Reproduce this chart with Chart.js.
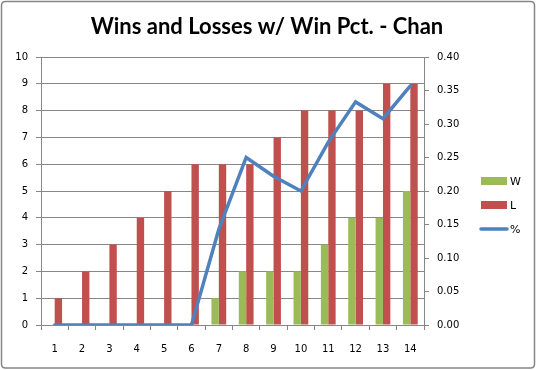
<!DOCTYPE html>
<html><head><meta charset="utf-8">
<script src="https://cdn.jsdelivr.net/npm/chart.js@4"></script>
<style>html,body{margin:0;padding:0;background:#fff}#wrap{width:537px;height:370px;position:relative}</style>
</head><body><div id="wrap"><canvas id="c" width="537" height="370"></canvas></div>
<script>
const titleText = "Wins and Losses w/ Win Pct. - Chan";
const categories = ["1","2","3","4","5","6","7","8","9","10","11","12","13","14"];
const wins = [0,0,0,0,0,0,1,2,2,2,3,4,4,5];
const losses = [1,2,3,4,5,6,6,6,7,8,8,8,9,9];
const winPct = [0,0,0,0,0,0,0.143,0.25,0.222,0.20,0.273,0.333,0.308,0.357];
const seriesNames = ["W","L","%"];
const colors = ["#9BBB59","#C0504D","#4F81BD"];

const AX = {left:41, right:424, top:57, bottom:325};
const gridColor = "#878787";
const tickFont = {family:"DejaVu Sans", size:10};

const decor = {
  id:'decor',
  beforeDraw(chart){
    const ctx = chart.ctx;
    ctx.save();
    ctx.fillStyle = '#fff';
    ctx.fillRect(0,0,chart.width,chart.height);
    ctx.strokeStyle = '#868686';
    ctx.lineWidth = 1.5;
    const r=4, x=1.5, y=1.5, w=533, h=366.5;
    ctx.beginPath();
    ctx.moveTo(x+r,y);ctx.lineTo(x+w-r,y);ctx.quadraticCurveTo(x+w,y,x+w,y+r);
    ctx.lineTo(x+w,y+h-r);ctx.quadraticCurveTo(x+w,y+h,x+w-r,y+h);
    ctx.lineTo(x+r,y+h);ctx.quadraticCurveTo(x,y+h,x,y+h-r);
    ctx.lineTo(x,y+r);ctx.quadraticCurveTo(x,y,x+r,y);
    ctx.stroke();
    ctx.restore();
  },
  afterDraw(chart){
    const ctx = chart.ctx;
    ctx.save();
    ctx.fillStyle = '#000';
    ctx.font = 'bold 22px Lato';
    ctx.textAlign = 'center';
    ctx.textBaseline = 'middle';
    ctx.fillText(titleText, 267, 27);
    // legend
    ctx.font = '11px "DejaVu Sans"';
    ctx.textAlign = 'left';
    const ys = [181,205,229];
    chart.data.datasets.forEach((ds,i)=>{
      const y = ys[i];
      if (ds.type === 'line') {
        ctx.strokeStyle = ds.borderColor; ctx.lineWidth = 3.5; ctx.lineCap='round';
        ctx.beginPath(); ctx.moveTo(481,y); ctx.lineTo(507,y); ctx.stroke();
      } else {
        ctx.fillStyle = ds.backgroundColor; ctx.fillRect(481,y-4,26,8);
      }
      ctx.fillStyle = '#000';
      ctx.fillText(ds.label, 510, y+1);
    });
    ctx.restore();
  }
};

new Chart(document.getElementById('c'), {
  data:{
    labels:categories,
    datasets:[
      {type:'bar', label:seriesNames[0], data:wins, backgroundColor:colors[0], yAxisID:'y', order:2},
      {type:'bar', label:seriesNames[1], data:losses, backgroundColor:colors[1], yAxisID:'y', order:2},
      {type:'line', label:seriesNames[2], data:winPct, borderColor:colors[2], backgroundColor:colors[2], borderWidth:3.5, pointRadius:0, tension:0, yAxisID:'y1', order:1, borderCapStyle:'round', borderJoinStyle:'miter'}
    ]
  },
  options:{
    responsive:false, animation:false,
    layout:{padding:{top:AX.top, left:0, right:0, bottom:0}},
    datasets:{bar:{categoryPercentage:0.54, barPercentage:1.0}},
    plugins:{legend:{display:false}, title:{display:false}, tooltip:{enabled:false}},
    scales:{
      x:{
        offset:true,
        grid:{offset:true, drawOnChartArea:false, color:gridColor, tickLength:5, tickColor:gridColor},
        border:{display:true, color:gridColor},
        ticks:{font:tickFont, color:'#000', padding:13, maxRotation:0, autoSkip:false},
        afterFit(s){ s.height = 370 - AX.bottom; }
      },
      y:{
        position:'left', min:0, max:10,
        grid:{color:gridColor, tickLength:5, tickColor:gridColor},
        border:{display:true, color:gridColor},
        ticks:{stepSize:1, font:tickFont, color:'#000', padding:8},
        afterFit(s){ s.width = AX.left; }
      },
      y1:{
        position:'right', min:0, max:0.4,
        grid:{drawOnChartArea:false, color:gridColor, tickLength:5, tickColor:gridColor},
        border:{display:true, color:gridColor},
        ticks:{stepSize:0.05, font:tickFont, color:'#000', padding:8, callback:v=>v.toFixed(2)},
        afterFit(s){ s.width = 537 - AX.right; }
      }
    }
  },
  plugins:[decor]
});
</script></body></html>
